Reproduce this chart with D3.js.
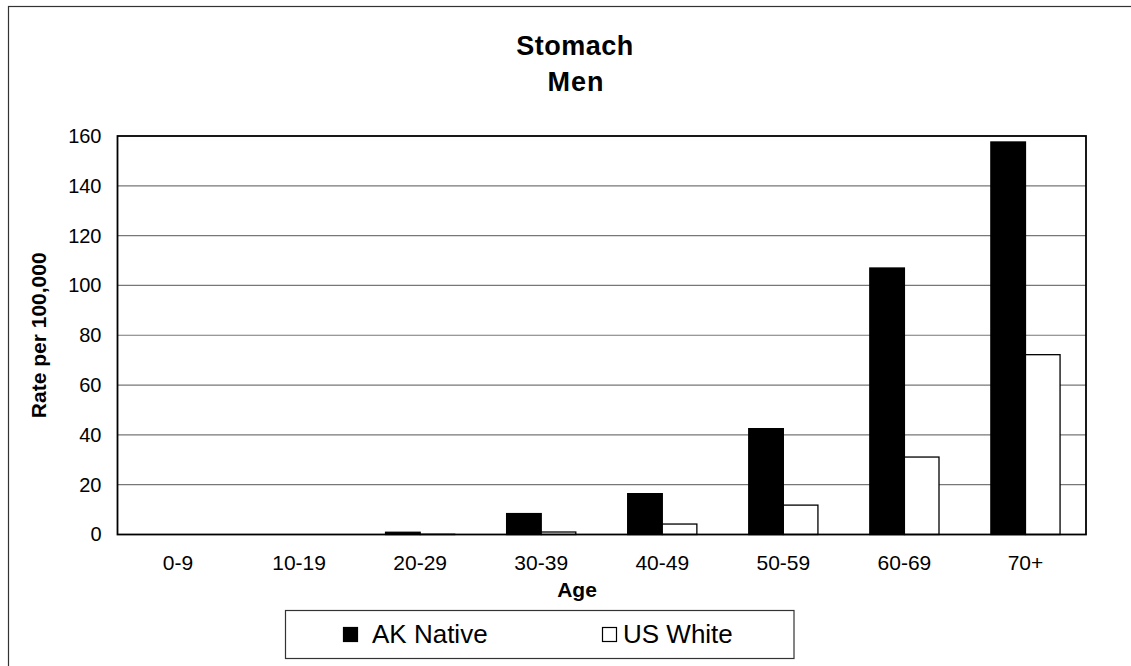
<!DOCTYPE html>
<html>
<head>
<meta charset="utf-8">
<script src="https://cdn.jsdelivr.net/npm/d3@7"></script>
<style>
  html, body { margin: 0; padding: 0; background: #fff; }
  svg { display: block; font-family: "Liberation Sans", Arial, sans-serif; }
</style>
</head>
<body>
<svg id="chart" width="1131" height="666"></svg>
<script>
const categories = ["0-9", "10-19", "20-29", "30-39", "40-49", "50-59", "60-69", "70+"];
const akNative = [0, 0, 0.9, 8.4, 16.4, 42.5, 107, 157.6];
const usWhite = [0, 0, 0.1, 1.0, 4.2, 11.8, 31.1, 72.2];
const yTicks = [0, 20, 40, 60, 80, 100, 120, 140, 160];
const seriesNames = ["AK Native", "US White"];
const titleLines = ["Stomach", "Men"];
const xTitle = "Age";
const yTitle = "Rate per 100,000";

const svg = d3.select("#chart");
const plot = { left: 117.5, right: 1086, top: 136, bottom: 534.5 };

// outer border (clipped at right/bottom like the reference)
svg.append("rect")
  .attr("x", 8.5).attr("y", 6.5)
  .attr("width", 1140).attr("height", 680)
  .attr("fill", "#fff").attr("stroke", "#333").attr("stroke-width", 1.2);

const x = d3.scaleBand().domain(categories).range([plot.left, plot.right]).padding(0);
const bw = x.step() / 3.5;
const xs = d3.scaleBand().domain(seriesNames).range([0, 2 * bw]).padding(0);
const y = d3.scaleLinear().domain([0, 160]).range([plot.bottom, plot.top]);

// gridlines
svg.append("g").selectAll("line").data(yTicks.filter(d => d > 0 && d < 160)).join("line")
  .attr("x1", plot.left).attr("x2", plot.right)
  .attr("y1", d => y(d)).attr("y2", d => y(d))
  .attr("stroke", "#777").attr("stroke-width", 1.2);

// bars
const data = categories.map((c, i) => ({ c, v: [akNative[i], usWhite[i]] }));
const groups = svg.append("g").selectAll("g").data(data).join("g")
  .attr("transform", d => `translate(${x(d.c) + x.bandwidth() / 2 - bw},0)`);
groups.selectAll("rect").data(d => d.v.map((v, j) => ({ v, s: seriesNames[j] }))).join("rect")
  .attr("x", d => xs(d.s))
  .attr("y", d => y(d.v))
  .attr("width", xs.bandwidth())
  .attr("height", d => y(0) - y(d.v))
  .attr("fill", d => d.s === "AK Native" ? "#000" : "#fff")
  .attr("stroke", "#000").attr("stroke-width", 1.3)
  .attr("display", d => d.v > 0 ? null : "none");

// plot frame
svg.append("rect")
  .attr("x", plot.left).attr("y", plot.top)
  .attr("width", plot.right - plot.left).attr("height", plot.bottom - plot.top)
  .attr("fill", "none").attr("stroke", "#000").attr("stroke-width", 1.8);

// y axis
const yAxis = d3.axisLeft(y).tickValues(yTicks).tickSize(0).tickPadding(16);
const ya = svg.append("g").attr("transform", `translate(${plot.left},0)`).call(yAxis);
ya.select(".domain").remove();
ya.selectAll("text").attr("font-size", 20).attr("fill", "#000")
  .attr("font-family", "Liberation Sans, Arial, sans-serif");

// x axis
const xAxis = d3.axisBottom(x).tickSize(0).tickPadding(21);
const xa = svg.append("g").attr("transform", `translate(0,${plot.bottom})`).call(xAxis);
xa.select(".domain").remove();
xa.selectAll("text").attr("font-size", 21).attr("fill", "#000")
  .attr("font-family", "Liberation Sans, Arial, sans-serif");

// titles
svg.append("text").attr("x", 575).attr("y", 55).attr("text-anchor", "middle")
  .attr("font-size", 27).attr("font-weight", "bold").attr("letter-spacing", 0.5).text(titleLines[0]);
svg.append("text").attr("x", 576).attr("y", 91).attr("text-anchor", "middle")
  .attr("font-size", 27).attr("font-weight", "bold").attr("letter-spacing", 1).text(titleLines[1]);

svg.append("text").attr("x", 577).attr("y", 597).attr("text-anchor", "middle")
  .attr("font-size", 21).attr("font-weight", "bold").text(xTitle);

svg.append("text").attr("transform", `translate(46,${(plot.top + plot.bottom) / 2}) rotate(-90)`)
  .attr("text-anchor", "middle")
  .attr("font-size", 21).attr("font-weight", "bold").text(yTitle);

// legend
const lg = svg.append("g");
lg.append("rect").attr("x", 285.5).attr("y", 610.5).attr("width", 508.5).attr("height", 48)
  .attr("fill", "#fff").attr("stroke", "#333").attr("stroke-width", 1.2);
const legendItems = [
  { name: seriesNames[0], sx: 343, tx: 372, fill: "#000" },
  { name: seriesNames[1], sx: 602, tx: 623, fill: "#fff" }
];
legendItems.forEach(it => {
  lg.append("rect").attr("x", it.sx + 0.5).attr("y", 627.5).attr("width", 14).attr("height", 14)
    .attr("fill", it.fill).attr("stroke", "#000").attr("stroke-width", 1.2);
  lg.append("text").attr("x", it.tx).attr("y", 643).attr("font-size", 26).text(it.name);
});
</script>
</body>
</html>
